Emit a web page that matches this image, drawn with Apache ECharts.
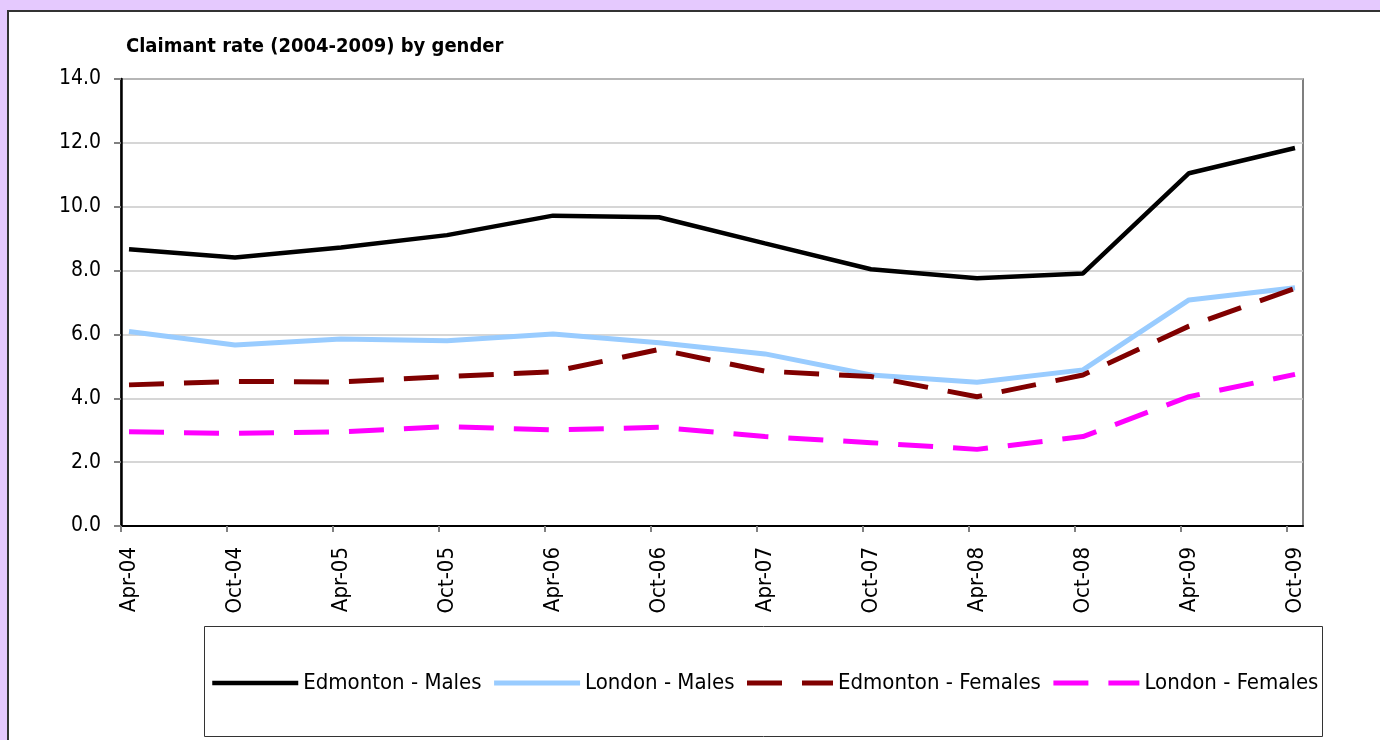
<!DOCTYPE html>
<html>
<head>
<meta charset="utf-8">
<script src="https://cdn.jsdelivr.net/npm/echarts@6/dist/echarts.min.js"></script>
<style>
  body { margin: 0; background: #E5C9FE; overflow: hidden; }
  #panel { position: absolute; left: 7px; top: 10px; width: 1400px; height: 800px; background: #fff; border: 2px solid #333; }
  #main { position: absolute; left: 0; top: 0; width: 1380px; height: 740px; }
</style>
</head>
<body>
<div id="panel"></div>
<div id="main"></div>
<script>
var categories = ['Apr-04', 'Oct-04', 'Apr-05', 'Oct-05', 'Apr-06', 'Oct-06', 'Apr-07', 'Oct-07', 'Apr-08', 'Oct-08', 'Apr-09', 'Oct-09'];
var edmontonMales = [8.67, 8.41, 8.72, 9.11, 9.72, 9.67, 8.85, 8.04, 7.76, 7.91, 11.05, 11.84];
var londonMales = [6.09, 5.67, 5.86, 5.80, 6.01, 5.74, 5.39, 4.73, 4.50, 4.89, 7.08, 7.46];
var edmontonFemales = [4.42, 4.53, 4.51, 4.68, 4.83, 5.53, 4.85, 4.68, 4.05, 4.73, 6.26, 7.44];
var londonFemales = [2.95, 2.90, 2.95, 3.11, 3.01, 3.09, 2.80, 2.61, 2.40, 2.80, 4.05, 4.75];

var font = '"Liberation Sans Narrow", "Arial Narrow", "DejaVu Sans Condensed", sans-serif';
// excel draws the ticks a little left of the points
var pad = 0.0755;

function pairs(values) {
  return values.map(function (v, i) { return [i, v]; });
}

var chart = echarts.init(document.getElementById('main'));

var option = {
  backgroundColor: 'transparent',
  animation: false,
  title: {
    text: 'Claimant rate (2004-2009) by gender',
    left: 121,
    top: 32,
    textStyle: { fontFamily: font, fontSize: 20, fontWeight: 'bold', color: '#000' }
  },
  graphic: [{
    type: 'rect',
    shape: { x: 204.5, y: 626.5, width: 1118, height: 110 },
    style: { fill: 'transparent', stroke: '#333', lineWidth: 1 },
    silent: true
  }],
  legend: {
    left: 210,
    top: 672,
    padding: 0,
    itemWidth: 86,
    itemHeight: 14,
    itemGap: 10,
    // only the line in the key, no marker
    itemStyle: { opacity: 0 },
    lineStyle: { width: 'inherit', type: 'inherit' },
    textStyle: { fontFamily: font, fontSize: 22, color: '#000' },
    data: ['Edmonton - Males', 'London - Males', 'Edmonton - Females', 'London - Females']
  },
  grid: {
    left: 121,
    top: 79,
    right: 77,
    bottom: 214,
    show: true,
    borderColor: '#555',
    borderWidth: 1.5
  },
  xAxis: {
    type: 'value',
    min: -pad,
    max: categories.length - 1 + pad,
    axisLine: { onZero: false, lineStyle: { color: '#000', width: 2 } },
    axisTick: {
      length: 6,
      lineStyle: { color: '#808080', width: 2 },
      customValues: categories.map(function (c, i) { return i - pad; })
    },
    axisLabel: {
      rotate: 90,
      margin: 21,
      fontFamily: font,
      fontSize: 22,
      color: '#000',
      customValues: categories.map(function (c, i) { return i; }),
      formatter: function (v) { return categories[Math.round(v)]; }
    },
    splitLine: { show: false }
  },
  yAxis: {
    type: 'value',
    min: 0,
    max: 14,
    interval: 2,
    axisLine: { show: true, onZero: false, lineStyle: { color: '#000', width: 2.5 } },
    axisTick: { show: true, length: 7, lineStyle: { color: '#808080', width: 2 } },
    axisLabel: {
      margin: 20,
      fontFamily: font,
      fontSize: 21,
      color: '#000',
      formatter: function (v) { return v.toFixed(1); }
    },
    splitLine: { lineStyle: { color: '#C8C8C8', width: 1.5 } }
  },
  series: [
    {
      name: 'Edmonton - Males',
      type: 'line',
      symbol: 'none',
      data: pairs(edmontonMales),
      lineStyle: { color: '#000', width: 4.5 },
      itemStyle: { color: '#000' }
    },
    {
      name: 'London - Males',
      type: 'line',
      symbol: 'none',
      data: pairs(londonMales),
      lineStyle: { color: '#99CCFF', width: 5 },
      itemStyle: { color: '#99CCFF' }
    },
    {
      name: 'Edmonton - Females',
      type: 'line',
      symbol: 'none',
      data: pairs(edmontonFemales),
      lineStyle: { color: '#800000', width: 5, type: [35, 20] },
      itemStyle: { color: '#800000' }
    },
    {
      name: 'London - Females',
      type: 'line',
      symbol: 'none',
      data: pairs(londonFemales),
      lineStyle: { color: '#FF00FF', width: 5, type: [35, 20] },
      itemStyle: { color: '#FF00FF' }
    }
  ]
};

chart.setOption(option);
</script>
</body>
</html>
